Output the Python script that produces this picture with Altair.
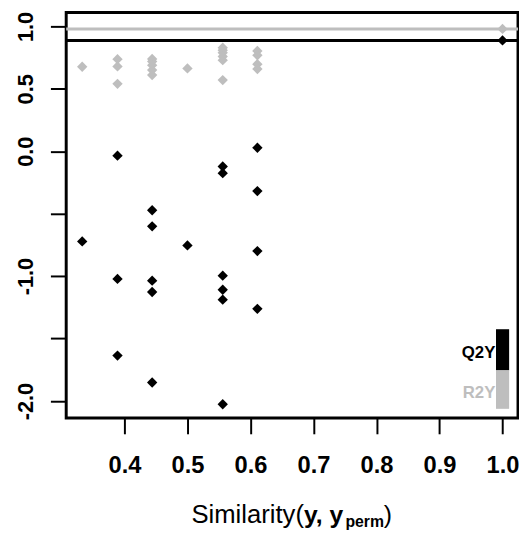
import altair as alt
import pandas as pd

# ---- data ----
# permuted models: similarity(y, y_perm) and the R2Y / Q2Y obtained
r2y_sim = [0.333,
           0.389, 0.389, 0.389,
           0.444, 0.444, 0.444, 0.444, 0.444,
           0.5,
           0.556, 0.556, 0.556, 0.556, 0.556, 0.556,
           0.611, 0.611, 0.611, 0.611]
r2y_val = [0.677,
           0.738, 0.68, 0.54,
           0.74, 0.72, 0.69, 0.65, 0.61,
           0.664,
           0.83, 0.81, 0.79, 0.76, 0.73, 0.57,
           0.804, 0.769, 0.698, 0.659]
q2y_sim = [0.333,
           0.389, 0.389, 0.389,
           0.444, 0.444, 0.444, 0.444, 0.444,
           0.5,
           0.556, 0.556, 0.556, 0.556, 0.556, 0.556,
           0.611, 0.611, 0.611, 0.611]
q2y_val = [-0.722,
           -0.035, -1.022, -1.636,
           -0.472, -0.601, -1.036, -1.127, -1.852,
           -0.754,
           -0.122, -0.175, -0.996, -1.109, -1.188, -2.026,
           0.028, -0.319, -0.799, -1.262]
# original model
model_sim = 1.0
model_r2y = 0.98
model_q2y = 0.888

x_ticks = [0.4, 0.5, 0.6, 0.7, 0.8, 0.9, 1.0]
y_ticks = [-2.0, -1.5, -1.0, -0.5, 0.0, 0.5, 1.0]
stats = ["R2Y", "Q2Y"]
stat_colors = ["#BEBEBE", "#000000"]

# ---- tables ----
r2_df = pd.DataFrame({"sim": r2y_sim + [model_sim],
                      "value": r2y_val + [model_r2y], "stat": "R2Y"})
q2_df = pd.DataFrame({"sim": q2y_sim + [model_sim],
                      "value": q2y_val + [model_q2y], "stat": "Q2Y"})
lines_df = pd.DataFrame({"value": [model_r2y, model_q2y], "stat": stats})
one = pd.DataFrame({"k": [0]})

W, H = 458, 411
x_scale = alt.Scale(domain=[0.3076, 1.0246], nice=False, zero=False)
y_scale = alt.Scale(domain=[-2.136, 1.111], nice=False, zero=False)
color = alt.Color("stat:N", scale=alt.Scale(domain=stats, range=stat_colors), legend=None)

x_axis = alt.Axis(values=x_ticks, format=".1f", title=None, grid=False, domain=False,
                  tickSize=16, tickWidth=2, tickColor="black",
                  labelFont="Liberation Sans", labelFontWeight="bold", labelFontSize=24,
                  labelColor="black", labelPadding=39, labelBaseline="alphabetic",
                  labelFlush=False, labelOverlap=False)
y_axis = alt.Axis(values=y_ticks, title=None, grid=False, domain=False,
                  tickSize=16, tickWidth=2, tickColor="black",
                  labelExpr="(datum.value == -0.5 || datum.value == -1.5) ? '' : "
                            "(datum.value < 0 ? '-' + format(abs(datum.value), '.1f') : format(datum.value, '.1f'))",
                  labelFont="Liberation Sans", labelFontWeight="bold", labelFontSize=22,
                  labelColor="black", labelAngle=270, labelAlign="center",
                  labelBaseline="alphabetic", labelPadding=18,
                  labelFlush=False, labelOverlap=False)

rules = alt.Chart(lines_df).mark_rule(strokeWidth=3).encode(
    y=alt.Y("value:Q", scale=y_scale, axis=y_axis), color=color)

def pts(df):
    return alt.Chart(df).mark_point(shape="diamond", filled=True, size=110, opacity=1).encode(
        x=alt.X("sim:Q", scale=x_scale, axis=x_axis),
        y=alt.Y("value:Q", scale=y_scale, axis=y_axis),
        color=color)

# legend (bottom right)
leg_q = alt.Chart(one).mark_rect(color="black").encode(
    x=alt.value(435.7), x2=alt.value(449), y=alt.value(321), y2=alt.value(362.7))
leg_r = alt.Chart(one).mark_rect(color="#BEBEBE").encode(
    x=alt.value(435.7), x2=alt.value(449), y=alt.value(362.7), y2=alt.value(401.7))
leg_qt = alt.Chart(one).mark_text(text="Q2Y", font="Liberation Sans", fontWeight="bold",
                                  fontSize=17, align="right", baseline="alphabetic",
                                  color="black").encode(x=alt.value(435), y=alt.value(350.3))
leg_rt = alt.Chart(one).mark_text(text="R2Y", font="Liberation Sans", fontWeight="bold",
                                  fontSize=17, align="right", baseline="alphabetic",
                                  color="#BEBEBE").encode(x=alt.value(435), y=alt.value(391))

# x title: Similarity(y, y_perm) with bold y and subscript
tx0 = 127
ty = 517
t1 = alt.Chart(one).mark_text(text="Similarity(", font="Liberation Sans", fontSize=26,
                              align="left", baseline="alphabetic", color="black").encode(
    x=alt.value(tx0), y=alt.value(ty))
t2 = alt.Chart(one).mark_text(text="y, y", font="Liberation Sans", fontSize=25, fontWeight="bold",
                              align="left", baseline="alphabetic", color="black").encode(
    x=alt.value(tx0 + 114), y=alt.value(ty))
t3 = alt.Chart(one).mark_text(text="perm", font="Liberation Sans", fontSize=16, fontWeight="bold",
                              align="left", baseline="alphabetic", color="black").encode(
    x=alt.value(tx0 + 156), y=alt.value(ty + 4))
t4 = alt.Chart(one).mark_text(text=")", font="Liberation Sans", fontSize=25,
                              align="left", baseline="alphabetic", color="black").encode(
    x=alt.value(tx0 + 195), y=alt.value(ty))

chart = alt.layer(rules, pts(r2_df), pts(q2_df), leg_q, leg_r, leg_qt, leg_rt, t1, t2, t3, t4).properties(
    width=W, height=H,
    autosize=alt.AutoSizeParams(type="none"),
    padding={"left": 59, "top": 1, "right": 1, "bottom": 117},
).configure_view(stroke="black", strokeWidth=3)

chart.save("out.html", embed_options={"renderer": "svg", "actions": False})
